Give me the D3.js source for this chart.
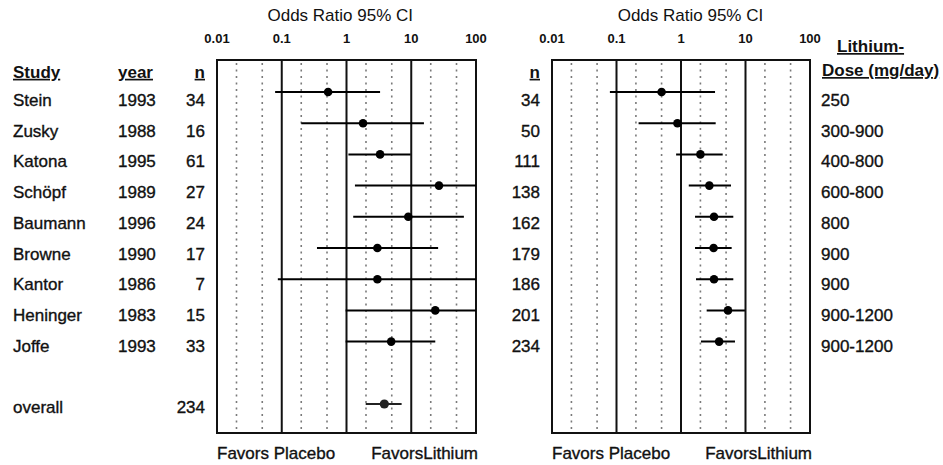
<!DOCTYPE html>
<html>
<head>
<meta charset="utf-8">
<script src="https://cdn.jsdelivr.net/npm/d3@7"></script>
<style>
  html, body { margin: 0; padding: 0; background: #fff; }
  svg { display: block; font-family: "Liberation Sans", Arial, sans-serif; }
</style>
</head>
<body>
<svg id="chart" width="943" height="465"></svg>
<script>
// ---- data ----
const studies = ["Stein", "Zusky", "Katona", "Schöpf", "Baumann", "Browne", "Kantor", "Heninger", "Joffe"];
const years = [1993, 1988, 1995, 1989, 1996, 1990, 1986, 1983, 1993];
const nStudy = [34, 16, 61, 27, 24, 17, 7, 15, 33];
const orStudy = [0.52, 1.8, 3.3, 26.8, 9.0, 3.0, 3.0, 23.5, 4.9];
const loStudy = [0.079, 0.20, 1.07, 1.35, 1.27, 0.35, 0.087, 0.97, 0.97];
const hiStudy = [3.3, 15.7, 9.8, 100, 65, 26, 100, 100, 23.5];

const overallLabel = "overall";
const overallN = 234;
const overallOR = 3.84;
const overallLo = 1.98;
const overallHi = 7.1;

const nCum = [34, 50, 111, 138, 162, 179, 186, 201, 234];
const orCum = [0.50, 0.88, 2.0, 2.75, 3.25, 3.2, 3.25, 5.35, 3.9];
const loCum = [0.079, 0.22, 0.84, 1.32, 1.65, 1.65, 1.71, 2.5, 2.04];
const hiCum = [3.37, 3.45, 4.43, 5.96, 6.47, 6.1, 6.47, 9.8, 6.87];
const doses = ["250", "300-900", "400-800", "600-800", "800", "900", "900", "900-1200", "900-1200"];

const tickValues = [0.01, 0.1, 1, 10, 100];
const tickLabels = ["0.01", "0.1", "1", "10", "100"];
const solidLines = [0.1, 1, 10];
const dottedLines = [0.02, 0.05, 0.2, 0.5, 2, 5, 20, 50];

const axisTitle = "Odds Ratio 95% CI";
const favorsLeft = "Favors Placebo";
const favorsRight = "FavorsLithium";
const headStudy = "Study", headYear = "year", headN = "n";
const headDose1 = "Lithium-", headDose2 = "Dose (mg/day)";

// ---- layout ----
const svg = d3.select("#chart");
const boxTop = 60, boxBottom = 433;
const xL = d3.scaleLog().domain([0.01, 100]).range([217, 476]).clamp(true);
const xR = d3.scaleLog().domain([0.01, 100]).range([552, 810]).clamp(true);
const yCI = d3.scaleLinear().domain([0, 10]).range([92, 404]);
const yTxt = d3.scaleLinear().domain([0, 10]).range([106, 413]); // baselines

function panel(x, rowsLo, rowsHi, rowsOR, extra) {
  const g = svg.append("g");
  // dotted grid
  g.selectAll("line.dot").data(dottedLines).join("line")
    .attr("x1", d => x(d)).attr("x2", d => x(d))
    .attr("y1", boxTop + 3).attr("y2", boxBottom - 2)
    .attr("stroke", "#7a7a7a").attr("stroke-width", 1.6)
    .attr("stroke-dasharray", "2,4.5");
  // solid decade lines
  g.selectAll("line.solid").data(solidLines).join("line")
    .attr("x1", d => x(d)).attr("x2", d => x(d))
    .attr("y1", boxTop).attr("y2", boxBottom)
    .attr("stroke", "#111").attr("stroke-width", 2);
  // box
  g.append("rect")
    .attr("x", x(0.01)).attr("y", boxTop)
    .attr("width", x(100) - x(0.01)).attr("height", boxBottom - boxTop)
    .attr("fill", "none").attr("stroke", "#111").attr("stroke-width", 2);
  // tick labels
  g.selectAll("text.tick").data(tickValues).join("text")
    .attr("x", d => x(d)).attr("y", 43)
    .attr("text-anchor", "middle")
    .attr("font-size", 13).attr("font-weight", "bold").attr("fill", "#111")
    .text((d, i) => tickLabels[i]);
  // CI lines and points
  const idx = d3.range(rowsOR.length);
  g.selectAll("line.ci").data(idx).join("line")
    .attr("x1", i => x(rowsLo[i])).attr("x2", i => x(rowsHi[i]))
    .attr("y1", i => yCI(i)).attr("y2", i => yCI(i))
    .attr("stroke", "#000").attr("stroke-width", 2);
  g.selectAll("circle.pt").data(idx).join("circle")
    .attr("cx", i => x(rowsOR[i])).attr("cy", i => yCI(i))
    .attr("r", 4.3).attr("fill", "#000");
  if (extra) {
    g.append("line")
      .attr("x1", x(extra.lo)).attr("x2", x(extra.hi))
      .attr("y1", yCI(extra.row)).attr("y2", yCI(extra.row))
      .attr("stroke", "#222").attr("stroke-width", 2);
    g.append("circle")
      .attr("cx", x(extra.or)).attr("cy", yCI(extra.row))
      .attr("r", 4.6).attr("fill", "#222");
  }
  // bottom labels
  g.append("text").attr("x", x(0.01)).attr("y", 459)
    .attr("font-size", 17).attr("fill", "#111")
    .attr("stroke", "#111").attr("stroke-width", 0.35).text(favorsLeft);
  g.append("text").attr("x", x(100) + 2).attr("y", 459).attr("text-anchor", "end")
    .attr("font-size", 17).attr("fill", "#111")
    .attr("stroke", "#111").attr("stroke-width", 0.35).text(favorsRight);
  return g;
}

panel(xL, loStudy, hiStudy, orStudy, { lo: overallLo, hi: overallHi, or: overallOR, row: 10 });
panel(xR, loCum, hiCum, orCum, null);

// titles
svg.append("text").attr("x", xL(0.8)).attr("y", 21).attr("text-anchor", "middle")
  .attr("font-size", 17).attr("fill", "#111").text(axisTitle);
svg.append("text").attr("x", xR(1.4)).attr("y", 21).attr("text-anchor", "middle")
  .attr("font-size", 17).attr("fill", "#111").text(axisTitle);

// headers
function header(x, y, txt, anchor) {
  svg.append("text").attr("x", x).attr("y", y)
    .attr("text-anchor", anchor || "start")
    .attr("font-size", 17).attr("font-weight", "bold").attr("fill", "#111")
    .style("text-decoration", "underline")
    .text(txt);
}
const headY = yTxt(-0.92);
header(13, headY, headStudy);
header(118, headY, headYear);
header(205, headY, headN, "end");
header(540, headY, headN, "end");
header(837, 52, headDose1);
header(822, 76, headDose2);

// row text
function rowText(x, y, txt, anchor) {
  svg.append("text").attr("x", x).attr("y", y)
    .attr("text-anchor", anchor || "start")
    .attr("font-size", 17).attr("fill", "#111")
    .attr("stroke", "#111").attr("stroke-width", 0.35)
    .text(txt);
}
studies.forEach((s, i) => {
  rowText(13, yTxt(i), s);
  rowText(118, yTxt(i), String(years[i]));
  rowText(205, yTxt(i), String(nStudy[i]), "end");
  rowText(540, yTxt(i), String(nCum[i]), "end");
  rowText(821, yTxt(i), doses[i]);
});
rowText(13, yTxt(10), overallLabel);
rowText(205, yTxt(10), String(overallN), "end");
</script>
</body>
</html>
